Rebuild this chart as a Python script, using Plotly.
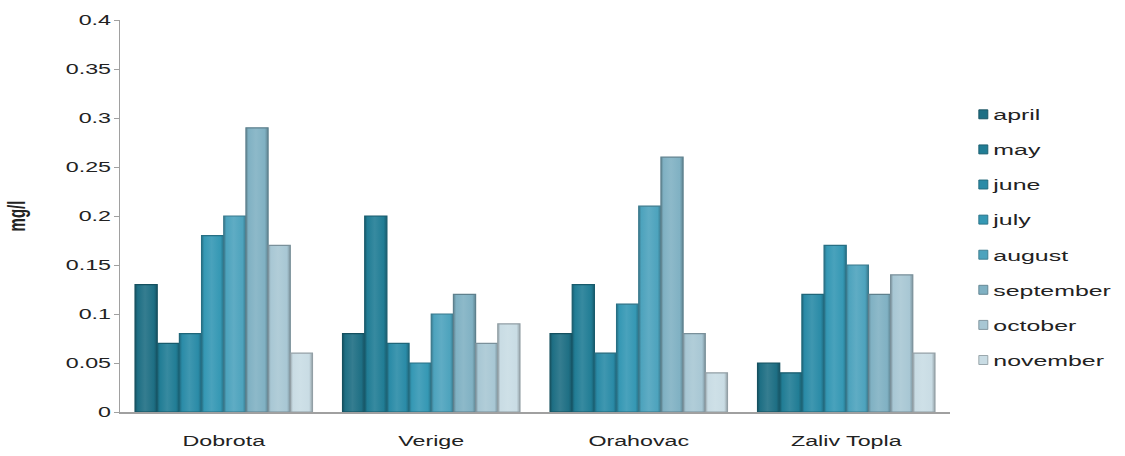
import plotly.graph_objects as go

# Sampling sites (x categories)
sites = ["Dobrota", "Verige", "Orahovac", "Zaliv Topla"]

# Monthly concentrations (mg/l) per site
april = [0.13, 0.08, 0.08, 0.05]
may = [0.07, 0.20, 0.13, 0.04]
june = [0.08, 0.07, 0.06, 0.12]
july = [0.18, 0.05, 0.11, 0.17]
august = [0.20, 0.10, 0.21, 0.15]
september = [0.29, 0.12, 0.26, 0.12]
october = [0.17, 0.07, 0.08, 0.14]
november = [0.06, 0.09, 0.04, 0.06]

months = ["april", "may", "june", "july", "august", "september", "october", "november"]
series = [april, may, june, july, august, september, october, november]

# y axis ticks
y_ticks = [0, 0.05, 0.1, 0.15, 0.2, 0.25, 0.3, 0.35, 0.4]
y_tick_labels = ["0", "0.05", "0.1", "0.15", "0.2", "0.25", "0.3", "0.35", "0.4"]

fills = ["#1e6f84", "#217d95", "#2a8ba7", "#3598b4", "#4da3bd",
         "#80b1c3", "#a8c7d4", "#c9dce4"]
edges = ["#15505f", "#185b6c", "#1f6679", "#276f84", "#39788b",
         "#5e808d", "#7a909a", "#929fa5"]

fig = go.Figure()
for name, vals, fc, ec in zip(months, series, fills, edges):
    fig.add_trace(go.Bar(
        name=name, x=sites, y=vals, legendgroup=name,
        marker=dict(color=fc, line=dict(color=ec, width=1.2)),
    ))

fig.update_layout(
    width=1125, height=456,
    margin=dict(l=120, r=175, t=20, b=44),
    paper_bgcolor="white", plot_bgcolor="white",
    barmode="group", bargap=0.145, bargroupgap=0,
    font=dict(family="Liberation Sans, Arial, sans-serif", size=15, color="#222"),
    showlegend=True,
    legend=dict(x=1.004, y=0.445, xanchor="left", yanchor="middle",
                tracegroupgap=12.6, itemwidth=30,
                font=dict(size=15, color="#222")),
    xaxis=dict(showline=True, linecolor="#a0a0a0", linewidth=1.5,
               ticks="", tickfont=dict(size=15), showgrid=False,
               ticklabelstandoff=14, automargin=False),
    yaxis=dict(range=[0, 0.4], tickvals=y_ticks, ticktext=y_tick_labels,
               showline=True, linecolor="#a0a0a0",
               linewidth=1, ticks="outside", ticklen=5, tickcolor="#a0a0a0",
               showgrid=False, zeroline=False,
               tickfont=dict(size=15),
               title=dict(text="<b>mg/l</b>", font=dict(size=15), standoff=52)),
)

# Post-render touches: wide lettering, compact legend swatches,
# and a rounded (cylinder-like) horizontal shading on each bar.
post_js = """
var gd = document.getElementById('{plot_id}');
function widen(sel, sx) {
    gd.querySelectorAll(sel).forEach(function (t) {
        var x = parseFloat(t.getAttribute('x')) || 0;
        t.setAttribute('x', x / sx);
        var tr = t.getAttribute('transform') || '';
        t.setAttribute('transform', tr + ' scale(' + sx + ',1)');
    });
}
widen('.xtick text, .ytick text', 1.55);
widen('.legendtext', 1.66);
gd.querySelectorAll('.ytitle').forEach(function (t) {
    var x = parseFloat(t.getAttribute('x')) || 0;
    var y = parseFloat(t.getAttribute('y')) || 0;
    var tr = t.getAttribute('transform') || '';
    t.setAttribute('transform', 'translate(' + x + ',' + y + ') scale(1.55,1) translate(' +
        (-x) + ',' + (-y) + ') ' + tr);
});
gd.querySelectorAll('.legend [clip-path]').forEach(function (el) {
    el.removeAttribute('clip-path');
});
gd.querySelectorAll('.legend .legendpoints path').forEach(function (p) {
    var tr = p.getAttribute('transform') || '';
    p.setAttribute('transform', tr + ' translate(10,0) scale(0.75)');
});
function shade(c, f) {
    var m = c.match(/\\d+(\\.\\d+)?/g).map(Number);
    return 'rgb(' + m.slice(0, 3).map(function (v) {
        return Math.round(f >= 0 ? v + (255 - v) * f : v * (1 + f));
    }).join(',') + ')';
}
var svg = gd.querySelector('svg.main-svg');
var ns = 'http://www.w3.org/2000/svg';
var defs = svg.querySelector('defs') || svg.insertBefore(document.createElementNS(ns, 'defs'), svg.firstChild);
gd.querySelectorAll('.barlayer .trace').forEach(function (tr, i) {
    var first = tr.querySelector('path');
    if (!first) return;
    var base = first.style.fill;
    var g = document.createElementNS(ns, 'linearGradient');
    g.setAttribute('id', 'barshade' + i);
    g.setAttribute('x1', '0'); g.setAttribute('x2', '1');
    g.setAttribute('y1', '0'); g.setAttribute('y2', '0');
    [[0, -0.25], [0.12, 0], [0.45, 0.1], [0.85, 0], [1, -0.25]].forEach(function (s) {
        var st = document.createElementNS(ns, 'stop');
        st.setAttribute('offset', s[0]);
        st.setAttribute('stop-color', shade(base, s[1]));
        g.appendChild(st);
    });
    defs.appendChild(g);
    tr.querySelectorAll('path').forEach(function (p) {
        p.style.fill = 'url(#barshade' + i + ')';
    });
});
"""

fig.write_html("out.html", post_script=post_js)
